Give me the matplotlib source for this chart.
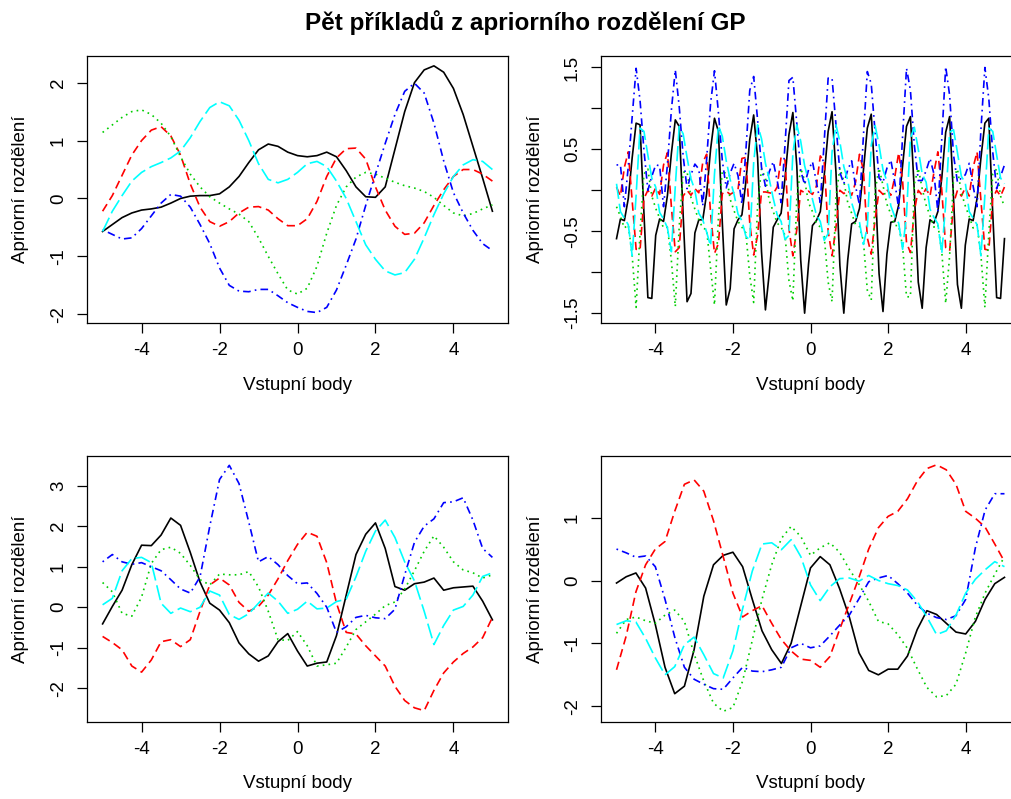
import numpy as np
import matplotlib.pyplot as plt

plt.rcParams['font.family'] = ['Liberation Sans', 'DejaVu Sans']
plt.rcParams['lines.scale_dashes'] = False

# vstupni body
x = np.linspace(-5, 5, 41)
x_per = np.linspace(-5, 5, 100)

# panel 1 (vlevo nahore)
tl_black = [-0.57, -0.45, -0.33, -0.25, -0.2, -0.18, -0.15, -0.08, 0.0, 0.04, 0.05, 0.05, 0.08, 0.2, 0.38,
            0.62, 0.84, 0.94, 0.9, 0.8, 0.74, 0.72, 0.74, 0.8, 0.72, 0.48, 0.2, 0.03, 0.02, 0.2, 0.85,
            1.5, 2.0, 2.22, 2.29, 2.18, 1.9, 1.45, 0.9, 0.35, -0.22]
tl_red = [-0.22, 0.05, 0.4, 0.75, 1.0, 1.18, 1.24, 1.08, 0.75, 0.25, -0.15, -0.4, -0.48, -0.4, -0.25,
          -0.15, -0.14, -0.2, -0.35, -0.47, -0.47, -0.35, -0.05, 0.38, 0.7, 0.86, 0.87, 0.68, 0.2, -0.2,
          -0.48, -0.62, -0.6, -0.42, -0.12, 0.15, 0.38, 0.5, 0.5, 0.42, 0.3]
tl_green = [1.14, 1.27, 1.4, 1.5, 1.53, 1.45, 1.3, 1.07, 0.72, 0.42, 0.2, 0.03, -0.08, -0.18, -0.27,
            -0.4, -0.68, -1.0, -1.3, -1.58, -1.65, -1.55, -1.17, -0.6, -0.12, 0.2, 0.37, 0.45, 0.42,
            0.35, 0.28, 0.22, 0.18, 0.12, 0.02, -0.12, -0.25, -0.3, -0.26, -0.18, -0.11]
tl_blue = [-0.54, -0.62, -0.7, -0.68, -0.52, -0.3, -0.08, 0.07, 0.04, -0.15, -0.45, -0.78, -1.2, -1.5,
           -1.6, -1.61, -1.57, -1.57, -1.68, -1.8, -1.88, -1.95, -1.97, -1.88, -1.58, -1.15, -0.7, -0.12,
           0.42, 0.95, 1.45, 1.85, 1.99, 1.82, 1.3, 0.65, 0.1, -0.25, -0.55, -0.78, -0.9]
tl_cyan = [-0.57, -0.22, 0.05, 0.3, 0.45, 0.55, 0.62, 0.7, 0.82, 1.05, 1.33, 1.57, 1.67, 1.6, 1.35,
           1.0, 0.6, 0.33, 0.27, 0.33, 0.45, 0.6, 0.64, 0.55, 0.3, 0.0, -0.4, -0.8, -1.05, -1.25,
           -1.32, -1.28, -1.05, -0.68, -0.28, 0.08, 0.38, 0.58, 0.67, 0.64, 0.5]

# panel 2 (vpravo nahore, periodicke jadro)
tr_black = [-0.59, -0.35, -0.37, -0.10, 0.40, 0.82, 0.80, -0.28, -1.31, -1.32,
            -0.55, -0.35, -0.38, -0.06, 0.45, 0.86, 0.78, -0.30, -1.36, -1.26,
            -0.52, -0.36, -0.36, -0.04, 0.50, 0.88, 0.72, -0.40, -1.40, -1.20,
            -0.47, -0.36, -0.30, 0.10, 0.62, 0.92, 0.40, -0.75, -1.46, -1.00,
            -0.45, -0.36, -0.28, 0.15, 0.68, 0.95, 0.30, -0.85, -1.50, -0.90,
            -0.43, -0.37, -0.26, 0.18, 0.72, 0.96, 0.22, -0.92, -1.50, -0.85,
            -0.41, -0.38, -0.22, 0.24, 0.76, 0.93, 0.10, -1.02, -1.48, -0.78,
            -0.39, -0.38, -0.18, 0.30, 0.78, 0.90, -0.02, -1.12, -1.44, -0.70,
            -0.36, -0.40, -0.26, 0.15, 0.71, 0.90, -0.10, -1.15, -1.44, -0.67,
            -0.35, -0.37, -0.10, 0.40, 0.82, 0.88, -0.28, -1.31, -1.32, -0.59]
tr_red = [0.04, -0.07, 0.28, 0.47, -0.13, -0.72, -0.73, -0.10, 0.00, -0.07,
          0.03, -0.05, 0.31, 0.46, -0.20, -0.75, -0.70, -0.07, 0.00, -0.06,
          0.02, -0.03, 0.34, 0.44, -0.28, -0.77, -0.65, -0.04, -0.01, -0.05,
          -0.02, 0.01, 0.39, 0.40, -0.40, -0.79, -0.55, -0.02, -0.02, -0.03,
          -0.04, 0.04, 0.41, 0.37, -0.47, -0.80, -0.48, 0.00, -0.03, -0.01,
          -0.05, 0.05, 0.42, 0.35, -0.50, -0.80, -0.45, 0.00, -0.04, 0.00,
          -0.06, 0.10, 0.44, 0.25, -0.58, -0.78, -0.35, 0.00, -0.05, 0.01,
          -0.06, 0.16, 0.46, 0.12, -0.64, -0.76, -0.25, 0.00, -0.06, 0.02,
          -0.07, 0.22, 0.47, 0.00, -0.70, -0.74, -0.16, 0.00, -0.07, 0.03,
          -0.07, 0.28, 0.47, -0.13, -0.72, -0.73, -0.10, 0.00, -0.07, 0.04]
tr_green = [-0.20, -0.32, -0.46, -0.42, -0.80, -1.43, -0.52, 0.20, 0.26, -0.07,
            -0.22, -0.34, -0.46, -0.45, -0.86, -1.42, -0.44, 0.22, 0.23, -0.09,
            -0.23, -0.36, -0.46, -0.48, -0.95, -1.40, -0.33, 0.24, 0.20, -0.11,
            -0.25, -0.38, -0.45, -0.52, -1.04, -1.37, -0.18, 0.26, 0.15, -0.13,
            -0.26, -0.40, -0.45, -0.55, -1.10, -1.35, -0.10, 0.27, 0.12, -0.15,
            -0.26, -0.40, -0.45, -0.56, -1.12, -1.36, -0.08, 0.27, 0.11, -0.15,
            -0.28, -0.42, -0.44, -0.62, -1.22, -1.34, 0.00, 0.27, 0.06, -0.17,
            -0.29, -0.43, -0.43, -0.68, -1.30, -1.30, 0.08, 0.27, 0.02, -0.18,
            -0.31, -0.45, -0.42, -0.75, -1.38, -0.80, 0.15, 0.26, -0.03, -0.19,
            -0.32, -0.46, -0.42, -0.80, -1.43, -0.52, 0.20, 0.26, -0.07, -0.20]
tr_blue = [0.31, 0.31, -0.20, 0.29, 0.90, 1.49, 1.10, 0.49, 0.00, 0.17,
           0.31, 0.30, -0.20, 0.32, 0.98, 1.47, 1.02, 0.42, 0.02, 0.19,
           0.32, 0.26, -0.19, 0.38, 1.06, 1.46, 0.95, 0.36, 0.03, 0.21,
           0.33, 0.18, -0.17, 0.48, 1.22, 1.39, 0.86, 0.28, 0.05, 0.23,
           0.35, 0.12, -0.15, 0.56, 1.34, 1.38, 0.82, 0.24, 0.07, 0.25,
           0.35, 0.10, -0.15, 0.60, 1.37, 1.37, 0.80, 0.22, 0.08, 0.25,
           0.36, 0.05, -0.18, 0.66, 1.45, 1.30, 0.70, 0.15, 0.10, 0.27,
           0.37, 0.10, -0.22, 0.66, 1.49, 1.22, 0.55, 0.12, 0.12, 0.24,
           0.39, 0.20, -0.26, 0.63, 1.51, 1.16, 0.43, 0.10, 0.15, 0.19,
           0.33, 0.05, -0.20, 0.75, 1.50, 1.12, 0.47, 0.02, 0.17, 0.31]
tr_cyan = [0.08, -0.26, -0.34, -0.42, -0.80, -0.06, 0.76, 0.72, 0.43, 0.15,
           0.04, -0.27, -0.35, -0.46, -0.75, 0.05, 0.78, 0.69, 0.40, 0.14,
           0.00, -0.28, -0.36, -0.51, -0.68, 0.20, 0.79, 0.66, 0.36, 0.13,
           -0.05, -0.29, -0.37, -0.56, -0.61, 0.34, 0.80, 0.63, 0.33, 0.13,
           -0.10, -0.30, -0.38, -0.60, -0.55, 0.45, 0.80, 0.60, 0.30, 0.12,
           -0.11, -0.30, -0.38, -0.61, -0.53, 0.47, 0.80, 0.59, 0.29, 0.12,
           -0.15, -0.31, -0.39, -0.66, -0.45, 0.55, 0.79, 0.55, 0.25, 0.11,
           -0.19, -0.32, -0.40, -0.72, -0.30, 0.64, 0.77, 0.50, 0.20, 0.10,
           -0.23, -0.33, -0.41, -0.77, -0.16, 0.71, 0.74, 0.46, 0.17, 0.09,
           -0.26, -0.34, -0.42, -0.80, -0.06, 0.76, 0.72, 0.43, 0.15, 0.08]

# panel 3 (vlevo dole)
bl_black = [-0.41, 0.02, 0.42, 1.05, 1.53, 1.52, 1.78, 2.2, 2.02, 1.35, 0.62, 0.1, -0.07, -0.38, -0.88,
            -1.15, -1.33, -1.2, -0.85, -0.65, -1.08, -1.45, -1.38, -1.35, -0.7, 0.3, 1.3, 1.8, 2.08,
            1.45, 0.51, 0.42, 0.58, 0.62, 0.72, 0.42, 0.48, 0.5, 0.52, 0.15, -0.31]
bl_red = [-0.72, -0.87, -1.05, -1.45, -1.6, -1.3, -0.85, -0.8, -0.97, -0.8, -0.1, 0.55, 0.72, 0.55, 0.12,
          -0.1, 0.02, 0.3, 0.7, 1.15, 1.55, 1.85, 1.75, 1.1, 0.1, -0.62, -0.66, -0.95, -1.2, -1.45,
          -1.95, -2.3, -2.48, -2.55, -2.05, -1.62, -1.35, -1.14, -0.98, -0.75, -0.25]
bl_green = [0.61, 0.38, -0.15, -0.22, 0.25, 1.08, 1.42, 1.48, 1.33, 1.03, 0.68, 0.55, 0.82, 0.8, 0.8,
            0.88, 0.5, -0.1, -0.8, -0.82, -0.6, -0.95, -1.45, -1.42, -1.38, -0.98, -0.55, -0.36, -0.17,
            0.04, 0.13, 0.45, 0.9, 1.38, 1.76, 1.48, 1.12, 0.92, 0.85, 0.72, 0.8]
bl_blue = [1.12, 1.3, 1.12, 1.06, 1.1, 1.0, 0.9, 0.68, 0.45, 0.35, 0.75, 2.0, 3.15, 3.5, 3.05, 2.1, 1.12,
           1.25, 1.05, 0.78, 0.58, 0.6, 0.34, 0.0, -0.62, -0.48, -0.25, -0.2, -0.26, -0.28, -0.05, 0.8,
           1.6, 2.0, 2.18, 2.58, 2.6, 2.7, 2.15, 1.45, 1.23]
bl_cyan = [0.06, 0.22, 0.9, 1.2, 1.23, 1.1, 0.1, -0.15, -0.02, -0.11, 0.0, 0.4, 0.3, -0.18, -0.3, -0.16,
           0.1, 0.35, 0.15, -0.15, -0.05, 0.15, -0.04, -0.02, 0.14, 0.2, 0.75, 1.38, 1.88, 2.15, 1.72,
           1.12, 0.65, -0.1, -0.92, -0.45, -0.07, 0.02, 0.3, 0.76, 0.85]

# panel 4 (vpravo dole)
br_black = [-0.04, 0.06, 0.12, -0.12, -0.7, -1.38, -1.8, -1.68, -1.1, -0.25, 0.25, 0.4, 0.45, 0.22, -0.3,
            -0.8, -1.1, -1.32, -1.0, -0.4, 0.2, 0.38, 0.25, -0.13, -0.58, -1.15, -1.43, -1.5, -1.41,
            -1.41, -1.2, -0.78, -0.48, -0.54, -0.68, -0.82, -0.85, -0.65, -0.3, -0.05, 0.05]
br_red = [-1.42, -0.88, -0.18, 0.25, 0.5, 0.62, 1.1, 1.53, 1.6, 1.42, 0.95, 0.38, -0.2, -0.58, -0.48,
          -0.4, -0.68, -0.94, -1.12, -1.25, -1.27, -1.38, -1.21, -0.78, -0.37, 0.05, 0.5, 0.84, 1.02,
          1.1, 1.3, 1.58, 1.78, 1.84, 1.76, 1.53, 1.1, 0.99, 0.85, 0.58, 0.3]
br_green = [-0.84, -0.62, -0.58, -0.64, -0.68, -0.55, -0.47, -0.65, -1.17, -1.6, -1.95, -2.08, -2.02,
            -1.6, -0.95, -0.3, 0.25, 0.67, 0.86, 0.7, 0.4, 0.52, 0.6, 0.45, 0.18, -0.06, -0.33, -0.65,
            -0.69, -0.86, -1.08, -1.4, -1.7, -1.85, -1.83, -1.65, -1.15, -0.58, -0.2, 0.1, 0.38]
br_blue = [0.5, 0.44, 0.37, 0.39, 0.22, -0.3, -0.9, -1.38, -1.57, -1.65, -1.72, -1.73, -1.55, -1.38,
           -1.44, -1.45, -1.42, -1.38, -1.07, -1.0, -1.07, -1.04, -0.88, -0.71, -0.55, -0.29, -0.02,
           0.04, 0.08, -0.05, -0.2, -0.39, -0.52, -0.59, -0.62, -0.56, -0.3, 0.52, 1.12, 1.38, 1.38]
br_cyan = [-0.7, -0.64, -0.66, -0.92, -1.23, -1.5, -1.37, -1.02, -0.9, -1.18, -1.48, -1.55, -1.12, -0.45,
           0.15, 0.58, 0.6, 0.49, 0.65, 0.38, -0.07, -0.32, -0.1, 0.03, 0.04, -0.01, 0.08, 0.0, -0.05,
           -0.08, -0.15, -0.33, -0.58, -0.86, -0.8, -0.55, -0.2, 0.02, 0.17, 0.3, 0.22]

xticks = [-4, -2, 0, 2, 4]
colors = ['black', '#FF0000', '#00CD00', '#0000FF', '#00FFFF']
styles = ['-', (0, (6, 3.5)), (0, (1.2, 3)), (0, (1.2, 3, 5.5, 3)), (0, (11, 3.5))]

W, H = 1012, 799
fig = plt.figure(figsize=(W / 100, H / 100), dpi=100)


def panel(left, top, right, bottom, xs, series, ylim, yticks, ylabels, ylab_x):
    ax = fig.add_axes([left / W, 1 - bottom / H, (right - left) / W, (bottom - top) / H])
    for s, c, ls in zip(series, colors, styles):
        ax.plot(xs, s, color=c, linestyle=ls, linewidth=1.2)
    ax.set_xlim(-5.4, 5.4)
    ax.set_ylim(ylim)
    ax.set_xticks(xticks)
    ax.set_xticklabels([str(t) for t in xticks])
    ax.set_yticks(yticks)
    ax.set_yticklabels(ylabels, rotation=90, va='center')
    ax.tick_params(axis='both', direction='out', length=7, width=0.9, labelsize=13.5)
    ax.tick_params(axis='x', pad=6.5)
    ax.tick_params(axis='y', pad=7.5)
    for sp in ax.spines.values():
        sp.set_linewidth(0.9)
    ax.text(0.5, -(62 / (bottom - top)), 'Vstupní body', transform=ax.transAxes,
            ha='center', va='center', fontsize=13.5)
    ax.text(-(left - ylab_x) / (right - left), 0.5, 'Apriorní rozdělení', transform=ax.transAxes,
            rotation=90, ha='center', va='center', fontsize=13.5)
    return ax


panel(87, 56, 508, 323, x, [tl_black, tl_red, tl_green, tl_blue, tl_cyan],
      (-2.15, 2.46), [-2, -1, 0, 1, 2], ['-2', '-1', '0', '1', '2'], 20)
panel(601, 56, 1020, 323, x_per, [tr_black, tr_red, tr_green, tr_blue, tr_cyan],
      (-1.62, 1.64), [-1.5, -1.0, -0.5, 0.0, 0.5, 1.0, 1.5],
      ['-1.5', '', '-0.5', '', '0.5', '', '1.5'], 535)
panel(87, 456, 508, 722, x, [bl_black, bl_red, bl_green, bl_blue, bl_cyan],
      (-2.83, 3.73), [-2, -1, 0, 1, 2, 3], ['-2', '-1', '0', '1', '2', '3'], 20)
panel(601, 456, 1020, 722, x, [br_black, br_red, br_green, br_blue, br_cyan],
      (-2.25, 1.98), [-2, -1, 0, 1], ['-2', '-1', '0', '1'], 535)

fig.text(525 / W, 1 - 23 / H, 'Pět příkladů z apriorního rozdělení GP',
         ha='center', va='center', fontsize=17.5, fontweight='bold')

fig.savefig('out.png', dpi=100)
